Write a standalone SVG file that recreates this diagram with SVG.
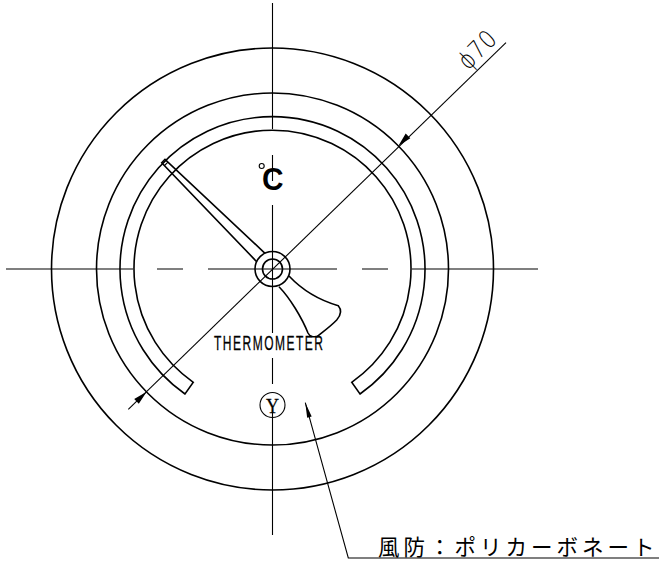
<svg xmlns="http://www.w3.org/2000/svg" width="659" height="561" viewBox="0 0 659 561">
<style>
.l{fill:none;stroke:#000;stroke-width:1.6}
.t{fill:none;stroke:#000;stroke-width:1.1}
.a{fill:#000;stroke:none}
text{fill:#000}
</style>
<rect width="659" height="561" fill="#fff"/>
<g id="body">
<circle class="l" cx="272.500" cy="269" r="221"/>
<circle class="l" cx="272.500" cy="269" r="176"/>
</g>
<g id="ring">
<path class="l" d="M185 394A152.500 152.500 0 1 1 360 394L351.700 382.300A138.500 138.500 0 1 0 193.300 382.300Z"/>
</g>
<g id="pointer">
<path class="l" d="M256.700 261.700L161.700 162.700L165 159.300L265 253.300"/>
<path class="t" d="M164.500 165.500L168 162.200"/>
<path class="l" d="M279 286.700C290 298 302 318 308 333C310 337 313 337 317 336.700C324 331 331 326 336.700 320C341 315 342 310 338.300 305.700C322 301 305 293 289 276"/>
<circle class="l" cx="272.500" cy="269" r="17.500"/>
<circle class="l" cx="272.500" cy="269" r="10"/>
</g>
<g id="connectors">
<path class="t" d="M272.500 3V129M272.500 155V181M272.500 205V333M272.500 358V384M272.500 410V535"/>
<path class="t" d="M6 269H133M157 269H183M208 269H337M362 269H388M412 269H538"/>
<path class="t" d="M506 42.700L128.300 409.300"/>
<path class="a" d="M398.300 146L405.700 133.500L410.300 138.200ZM146.700 391.700L134.200 399L138.800 403.700Z"/>
<path class="t" d="M305.300 402.700L348.300 558H659"/>
<path class="a" d="M305.300 402.700L311.700 416.500L307.200 417.800Z"/>
</g>
<g id="labels">
<text transform="translate(468 71) rotate(-45) scale(.85 1)" font-family="'DejaVu Sans',sans-serif" font-size="25" font-weight="200" letter-spacing="1">ϕ70</text>
<text x="262" y="190" font-family="'Liberation Sans',sans-serif" font-size="31" font-weight="700" textLength="21.500" lengthAdjust="spacingAndGlyphs">C</text>
<circle class="t" cx="261.700" cy="166" r="2.500"/>
<text transform="translate(214 350) scale(.6 1)" font-family="'Liberation Sans',sans-serif" font-size="20" letter-spacing="2.500" stroke="#000" stroke-width="0.3">THERMOMETER</text>
<circle class="t" cx="272.500" cy="405" r="12.500"/>
<text x="272.500" y="413" text-anchor="middle" font-family="'Liberation Serif',serif" font-size="22" textLength="13" lengthAdjust="spacingAndGlyphs" stroke="#000" stroke-width="0.3">Y</text>
<text x="378" y="554.500" font-family="'Noto Sans CJK JP',sans-serif" font-size="21.500" letter-spacing="4">風防：ポリカーボネート</text>
</g>
</svg>
